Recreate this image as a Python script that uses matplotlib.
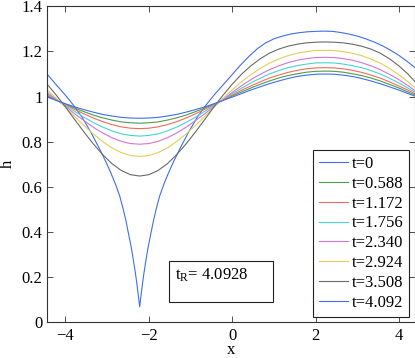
import numpy as np
import matplotlib
matplotlib.use("Agg")
import matplotlib.pyplot as plt

plt.rcParams["font.family"] = "Liberation Serif"
plt.rcParams["mathtext.fontset"] = "custom"
plt.rcParams["mathtext.rm"] = "Liberation Serif"
plt.rcParams["axes.unicode_minus"] = True

# sample positions of the smooth profiles
x_grid = [-4.44, -4.218, -3.996, -3.774, -3.552, -3.33, -3.108, -2.886, -2.664, -2.442, -2.22,
          -1.998, -1.776, -1.554, -1.332, -1.11, -0.888, -0.666, -0.444, -0.222, 0.0,
          0.222, 0.444, 0.666, 0.888, 1.11, 1.332, 1.554, 1.776, 1.998, 2.22,
          2.442, 2.664, 2.886, 3.108, 3.33, 3.552, 3.774, 3.996, 4.218, 4.44]

# initial profile (cusp at x ~ -2.2)
x_t0 = [-4.44, -4.22, -4.0, -3.8, -3.6, -3.4, -3.2, -3.02, -2.9, -2.8, -2.7, -2.62, -2.55,
        -2.49, -2.42, -2.37, -2.32, -2.29, -2.26, -2.24, -2.22, -2.20, -2.18, -2.15, -2.12,
        -2.07, -2.02, -1.95, -1.89, -1.82, -1.74, -1.64, -1.54, -1.42, -1.24, -1.04, -0.84,
        -0.64, -0.44, -0.22, 0.0, 0.2, 0.4, 0.6, 0.8, 1.0, 1.2, 1.4, 1.6, 1.8, 2.0, 2.2, 2.4,
        2.6, 2.8, 3.0, 3.2, 3.4, 3.6, 3.8, 4.0, 4.2, 4.44]
h_t0 = [1.100, 1.052, 1.006, 0.960, 0.908, 0.845, 0.775, 0.707, 0.657, 0.612, 0.56, 0.505,
        0.45, 0.395, 0.33, 0.275, 0.215, 0.175, 0.13, 0.10, 0.069, 0.10, 0.13, 0.175, 0.215,
        0.275, 0.33, 0.395, 0.45, 0.505, 0.56, 0.612, 0.657, 0.707, 0.775, 0.845, 0.908,
        0.960, 1.006, 1.052, 1.098, 1.14, 1.178, 1.212, 1.238, 1.256, 1.268, 1.277, 1.283,
        1.287, 1.289, 1.29, 1.289, 1.284, 1.277, 1.268, 1.256, 1.242, 1.225, 1.205, 1.182,
        1.155, 1.12]

h_0588 = [1.003, 0.984, 0.966, 0.949, 0.933, 0.918, 0.906, 0.896, 0.888, 0.884, 0.882,
          0.884, 0.888, 0.896, 0.906, 0.918, 0.933, 0.949, 0.966, 0.984, 1.003,
          1.020, 1.038, 1.054, 1.069, 1.082, 1.093, 1.101, 1.108, 1.112, 1.113,
          1.112, 1.108, 1.101, 1.093, 1.082, 1.069, 1.054, 1.038, 1.020, 1.003]
h_1172 = [1.007, 0.986, 0.964, 0.943, 0.923, 0.905, 0.889, 0.876, 0.866, 0.860, 0.858,
          0.860, 0.866, 0.876, 0.889, 0.905, 0.923, 0.943, 0.964, 0.986, 1.007,
          1.028, 1.047, 1.065, 1.082, 1.095, 1.107, 1.116, 1.123, 1.127, 1.128,
          1.127, 1.123, 1.116, 1.107, 1.095, 1.082, 1.065, 1.047, 1.028, 1.007]
h_1756 = [1.013, 0.986, 0.960, 0.934, 0.908, 0.885, 0.865, 0.848, 0.835, 0.828, 0.825,
          0.828, 0.835, 0.848, 0.865, 0.885, 0.908, 0.934, 0.960, 0.986, 1.013,
          1.037, 1.060, 1.081, 1.100, 1.115, 1.128, 1.137, 1.144, 1.149, 1.150,
          1.149, 1.144, 1.137, 1.128, 1.115, 1.100, 1.081, 1.060, 1.037, 1.013]
h_2340 = [1.019, 0.987, 0.956, 0.923, 0.893, 0.864, 0.839, 0.818, 0.802, 0.792, 0.789,
          0.792, 0.802, 0.818, 0.839, 0.864, 0.893, 0.923, 0.956, 0.987, 1.019,
          1.048, 1.075, 1.098, 1.119, 1.136, 1.150, 1.161, 1.168, 1.173, 1.174,
          1.173, 1.168, 1.161, 1.150, 1.136, 1.119, 1.098, 1.075, 1.048, 1.019]
h_2924 = [1.030, 0.992, 0.952, 0.911, 0.871, 0.834, 0.801, 0.773, 0.752, 0.739, 0.735,
          0.739, 0.752, 0.773, 0.801, 0.834, 0.871, 0.911, 0.952, 0.992, 1.030,
          1.065, 1.097, 1.124, 1.148, 1.166, 1.181, 1.192, 1.199, 1.204, 1.205,
          1.204, 1.199, 1.192, 1.181, 1.166, 1.148, 1.124, 1.097, 1.065, 1.030]
h_3508 = [1.055, 1.006, 0.953, 0.897, 0.842, 0.790, 0.743, 0.703, 0.673, 0.654, 0.648,
          0.654, 0.673, 0.703, 0.743, 0.790, 0.842, 0.897, 0.953, 1.006, 1.055,
          1.099, 1.136, 1.167, 1.192, 1.210, 1.223, 1.232, 1.238, 1.241, 1.242,
          1.241, 1.238, 1.232, 1.223, 1.210, 1.192, 1.167, 1.136, 1.099, 1.055]
h_4092 = [0.998, 0.983, 0.968, 0.954, 0.942, 0.931, 0.921, 0.914, 0.908, 0.905, 0.904,
          0.905, 0.908, 0.914, 0.921, 0.931, 0.942, 0.954, 0.968, 0.983, 0.998,
          1.013, 1.029, 1.043, 1.057, 1.069, 1.080, 1.089, 1.095, 1.099, 1.100,
          1.099, 1.095, 1.089, 1.080, 1.069, 1.057, 1.043, 1.029, 1.013, 0.998]

labels = ["t=0", "t=0.588", "t=1.172", "t=1.756", "t=2.340", "t=2.924", "t=3.508", "t=4.092"]
colors = ["#3f6ff0", "#4a9e4a", "#f26a5e", "#48d2d2", "#d774d7", "#e2cf58", "#6a6a6a", "#3f6ff0"]
t_R = 4.0928

xs = [x_t0] + [x_grid] * 7
hs = [h_t0, h_0588, h_1172, h_1756, h_2340, h_2924, h_3508, h_4092]

fig = plt.figure(figsize=(4.15, 3.58), dpi=100)
ax = fig.add_axes([0.1125, 0.0997, 0.8863, 0.8827])

for x, h, c, lab in zip(xs, hs, colors, labels):
    ax.plot(x, h, color=c, lw=0.8, label=lab)

ax.set_xlim(-4.45, 4.37)
ax.set_ylim(0, 1.4)
ax.set_xticks([-4, -2, 0, 2, 4])
ax.set_yticks([0, 0.2, 0.4, 0.6, 0.8, 1.0, 1.2, 1.4])
ax.set_yticklabels(["0", "0.2", "0.4", "0.6", "0.8", "1", "1.2", "1.4"])
ax.tick_params(direction="in", length=4, width=0.6, top=True, right=True,
               labelsize=12, color="#333333")
ax.tick_params(axis="y", pad=3)
ax.tick_params(axis="x", pad=4)
for s in ax.spines.values():
    s.set_linewidth(0.8)
    s.set_color("#333333")

ax.set_xlabel("x", fontsize=12, labelpad=-1)
ax.set_ylabel("h", fontsize=12, labelpad=4)

leg = ax.legend(loc="lower right", bbox_to_anchor=(0.986, 0.018), fontsize=12,
                handlelength=1.75, handletextpad=0.2, labelspacing=0.23,
                borderpad=0.35, borderaxespad=0, fancybox=False, framealpha=1)
leg.get_frame().set_edgecolor("#222222")
leg.get_frame().set_linewidth(0.8)

# t_R annotation box
ax.add_patch(plt.Rectangle((0.333, 0.065), 0.283, 0.129, transform=ax.transAxes,
                           fill=True, fc="white", ec="#222222", lw=0.8, zorder=3))
ax.text(0.349, 0.134, r"$\mathregular{t_R}$= " + f"{t_R:.4f}", transform=ax.transAxes,
        fontsize=12, va="baseline", ha="left", zorder=4)

fig.savefig("out.png", dpi=100)
